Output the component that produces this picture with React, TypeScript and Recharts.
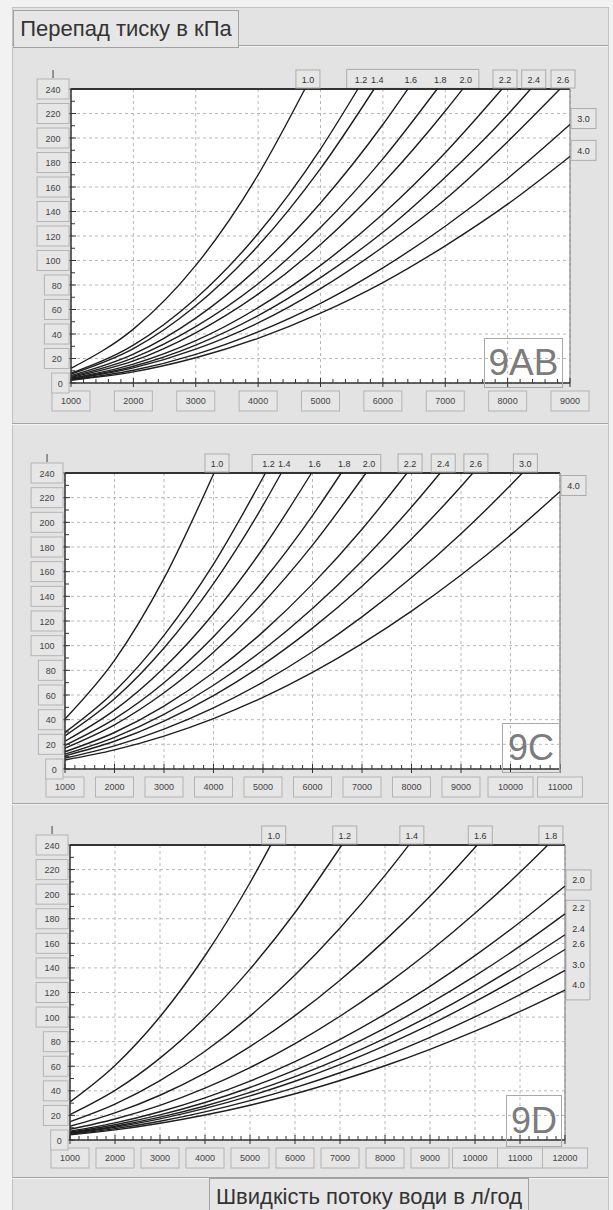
import React from 'react'
import { LineChart, Line, XAxis, YAxis, CartesianGrid, ReferenceLine, ReferenceArea } from 'recharts'

const FONT = '"Liberation Sans", Arial, sans-serif'

// pressure drop axis (kPa)
const DP_TICKS = [0, 20, 40, 60, 80, 100, 120, 140, 160, 180, 200, 220, 240]
const CURVE_NAMES = ['1.0', '1.2', '1.4', '1.6', '1.8', '2.0', '2.2', '2.4', '2.6', '3.0', '4.0']

// 9AB: dp read at every 1000 l/h, last value sits at the END flow
const AB_FLOW = [1000, 2000, 3000, 4000, 5000, 6000, 7000, 8000, 9000]
const AB_END = [4750, 5600, 5860, 6400, 6870, 7280, 7910, 8370, 8840, 9000, 9000]
const AB_DP = [
  [12, 44, 96, 170, 240],
  [8, 31, 69, 122, 191, 240],
  [7.2, 28, 63, 112, 175, 240],
  [6, 23.5, 53, 94, 147, 211, 240],
  [5.2, 20.5, 46, 81, 127, 183, 240],
  [4.6, 18, 41, 72.5, 113, 163, 222, 240],
  [3.9, 15.4, 34.5, 61.5, 96, 138, 188, 240],
  [3.5, 13.7, 31, 55, 86, 123, 168, 219, 240],
  [3.1, 12.3, 27.6, 49, 77, 111, 150, 197, 240],
  [2.7, 10.4, 23.4, 41.7, 65, 94, 128, 167, 211],
  [2.3, 9.1, 20.6, 36.5, 57, 82, 112, 146, 185],
]
const AB_GROUPED = ['1.2', '1.4', '1.6', '1.8', '2.0']

// 9C
const C_FLOW = [1000, 2000, 3000, 4000, 5000, 6000, 7000, 8000, 9000, 10000, 11000]
const C_END = [4010, 5050, 5370, 5980, 6580, 7080, 7910, 8580, 9240, 10240, 11000]
const C_DP = [
  [40.5, 88, 154.5, 240],
  [29.7, 62.9, 108.4, 166.1, 240],
  [26.9, 56.9, 98.1, 150.3, 213.7, 240],
  [22.5, 47.7, 82.1, 125.9, 179, 240],
  [19.2, 40.6, 69.9, 107.2, 152.4, 205.5, 240],
  [16.9, 35.8, 61.8, 94.7, 134.6, 181.5, 240],
  [14, 29.6, 51, 78.2, 111.2, 149.9, 194.4, 240],
  [12.1, 25.7, 44.3, 67.9, 96.5, 130.1, 168.7, 212.4, 240],
  [10.7, 22.5, 38.8, 59.5, 84.6, 114.2, 148.1, 186.4, 229.1, 240],
  [8.9, 18.8, 32.4, 49.6, 70.5, 95.1, 123.3, 155.2, 190.8, 230, 240],
  [7.3, 15.5, 26.7, 40.9, 58.1, 78.4, 101.7, 128, 157.3, 189.6, 225],
]
const C_GROUPED = ['1.2', '1.4', '1.6', '1.8', '2.0']

// 9D
const D_FLOW = [1000, 2000, 3000, 4000, 5000, 6000, 7000, 8000, 9000, 10000, 11000, 12000]
const D_END = [5460, 7040, 8530, 10050, 11620, 12000, 12000, 12000, 12000, 12000, 12000]
const D_DP = [
  [31, 60.7, 100.3, 149.9, 209.3, 240],
  [20.6, 40.3, 66.6, 99.5, 139, 185.1, 240],
  [14.9, 29.2, 48.3, 72.2, 100.8, 134.2, 172.4, 215.3, 240],
  [11.2, 22, 36.4, 54.4, 76, 101.2, 130, 162.4, 198.3, 240],
  [8.7, 17.1, 28.2, 42.2, 58.9, 78.4, 100.7, 125.8, 153.7, 184.4, 217.8, 240],
  [7.1, 13.9, 23, 34.3, 47.9, 63.8, 81.9, 102.4, 125, 150, 177.2, 206.7],
  [6.3, 12.4, 20.4, 30.5, 42.7, 56.8, 72.9, 91.1, 111.3, 133.5, 157.7, 184],
  [5.7, 11.2, 18.6, 27.7, 38.7, 51.5, 66.2, 82.7, 101, 121.2, 143.2, 167],
  [5.3, 10.4, 17.2, 25.7, 35.9, 47.8, 61.4, 76.8, 93.8, 112.5, 132.9, 155],
  [4.7, 9.3, 15.3, 22.9, 32, 42.6, 54.7, 68.3, 83.5, 100.1, 118.3, 138],
  [4.2, 8.2, 13.6, 20.3, 28.3, 37.6, 48.4, 60.4, 73.8, 88.5, 104.6, 122],
]
const D_GROUPED = ['2.2', '2.4', '2.6', '3.0', '4.0']

function range(from: number, to: number, step: number) {
  const out: number[] = []
  for (let v = from; v <= to; v += step) out.push(v)
  return out
}

function buildSeries(flow: number[], end: number[], rows: number[][]) {
  return rows.map((row, c) =>
    row.map((dp, i) => ({ q: i === row.length - 1 ? end[c] : flow[i], dp }))
  )
}

const XTick = (p: any) => {
  const { x, y, payload } = p
  const v = payload.value
  if (v % 1000 !== 0) {
    return <line x1={x} x2={x} y1={y - 4} y2={y} stroke="#333" />
  }
  const s = String(v)
  const w = 10 + 7 * s.length
  return (
    <g>
      <line x1={x} x2={x} y1={y - 5} y2={y + 4} stroke="#333" />
      <rect x={x - w / 2} y={y + 8} width={w} height={20} fill="#e6e6e6" stroke="#b4b4b4" />
      <text x={x} y={y + 21} textAnchor="middle" fontSize={9} fill="#444" fontFamily={FONT}>
        {s}
      </text>
    </g>
  )
}

const YTick = (p: any) => {
  const { x, y, payload } = p
  const v = payload.value
  if (v % 20 !== 0) {
    return <line x1={x} x2={x + 4} y1={y} y2={y} stroke="#333" />
  }
  const s = String(v)
  const w = 10 + 7.3 * s.length
  const cx = x - 2 - w / 2
  return (
    <g>
      <line x1={x - 3} x2={x + 5} y1={y} y2={y} stroke="#333" />
      <rect x={x - 2 - w} y={y - 10} width={w} height={20} fill="#e6e6e6" stroke="#b4b4b4" />
      <text x={cx} y={y + 3.5} textAnchor="middle" fontSize={9} fill="#444" fontFamily={FONT}>
        {s}
      </text>
      {v === 240 && <line x1={cx} x2={cx} y1={y - 19} y2={y - 11} stroke="#444" />}
    </g>
  )
}

const makeDot = (name: string, last: number, grouped: boolean) => (p: any) => {
  const key = `${name}-${p.index}`
  if (p.index !== last) return <g key={key} />
  const { cx, cy } = p
  const top = p.payload.dp >= 240
  if (top) {
    return (
      <g key={key}>
        {!grouped && <rect x={cx - 9} y={cy - 19} width={24} height={18} fill="#e6e6e6" stroke="#acacac" />}
        <text x={cx + 3} y={cy - 6.5} textAnchor="middle" fontSize={9} fill="#333" fontFamily={FONT}>
          {name}
        </text>
      </g>
    )
  }
  return (
    <g key={key}>
      {!grouped && <rect x={cx + 1} y={cy - 16} width={25} height={20} fill="#e6e6e6" stroke="#acacac" />}
      <text x={cx + 13.5} y={cy - 2.5} textAnchor="middle" fontSize={9} fill="#333" fontFamily={FONT}>
        {name}
      </text>
    </g>
  )
}

type PanelProps = {
  top: number
  height: number
  margin: { top: number; right: number; bottom: number; left: number }
  flow: number[]
  end: number[]
  rows: number[][]
  grouped: string[]
  groupBox: { x1: number; x2: number; y1: number; y2: number }
}

function Panel({ top, height, margin, flow, end, rows, grouped, groupBox }: PanelProps) {
  const series = buildSeries(flow, end, rows)
  const xMax = flow[flow.length - 1]
  return (
    <div style={{ position: 'absolute', left: 0, top }}>
      <LineChart width={613} height={height} margin={margin}>
        <CartesianGrid
          fill="#fff"
          stroke="#b8b8b8"
          strokeDasharray="3 3"
          verticalValues={flow}
          horizontalValues={DP_TICKS}
        />
        <XAxis
          dataKey="q"
          type="number"
          domain={[1000, xMax]}
          ticks={range(1000, xMax, 200)}
          interval={0}
          height={30}
          tickSize={0}
          tickMargin={0}
          tickLine={false}
          axisLine={{ stroke: '#333', strokeWidth: 1.5 }}
          tick={(p: any) => <XTick {...p} />}
        />
        <YAxis
          type="number"
          domain={[0, 240]}
          ticks={range(0, 240, 10)}
          interval={0}
          width={40}
          tickSize={0}
          tickMargin={0}
          tickLine={false}
          axisLine={{ stroke: '#333', strokeWidth: 1.5 }}
          tick={(p: any) => <YTick {...p} />}
        />
        <ReferenceLine y={240} stroke="#333" strokeWidth={2} />
        <ReferenceLine x={xMax} stroke="#8a8a8a" strokeWidth={1.2} />
        <ReferenceArea
          x1={groupBox.x1}
          x2={groupBox.x2}
          y1={groupBox.y1}
          y2={groupBox.y2}
          ifOverflow="visible"
          fill="#e6e6e6"
          fillOpacity={1}
          stroke="#acacac"
        />
        {series.map((pts, c) => (
          <Line
            key={CURVE_NAMES[c]}
            data={pts}
            dataKey="dp"
            type="monotone"
            stroke="#1e1e1e"
            strokeWidth={1.4}
            dot={makeDot(CURVE_NAMES[c], pts.length - 1, grouped.includes(CURVE_NAMES[c]))}
            activeDot={false}
            isAnimationActive={false}
          />
        ))}
      </LineChart>
    </div>
  )
}

const tagStyle = (left: number, top: number, width: number, height: number, size: number): React.CSSProperties => ({
  position: 'absolute',
  left,
  top,
  width,
  height,
  border: '1px solid #a8a8a8',
  boxSizing: 'border-box',
  color: '#7c7c7c',
  fontSize: size,
  fontFamily: FONT,
  display: 'flex',
  alignItems: 'center',
  justifyContent: 'center',
  pointerEvents: 'none',
})

const divider = (top: number): React.CSSProperties => ({
  position: 'absolute',
  left: 12,
  top,
  width: 596,
  height: 1,
  background: '#a4a4a4',
  boxShadow: '0 1px 0 #f4f4f4',
})

export default function App() {
  return (
    <div style={{ position: 'absolute', left: 0, top: 0, width: 613, height: 1210, background: '#f2f2f2', overflow: 'hidden' }}>
      <div
        style={{
          position: 'absolute',
          left: 12,
          top: 7,
          width: 595,
          height: 1210,
          background: '#e3e3e3',
          borderLeft: '1px solid #c2c2c2',
          borderRight: '1px solid #c2c2c2',
          borderTop: '1px solid #c2c2c2',
        }}
      />
      <div style={divider(45)} />
      <div
        style={{
          position: 'absolute',
          left: 13,
          top: 10,
          width: 226,
          height: 38,
          border: '1px solid #a2a2a2',
          boxSizing: 'border-box',
          background: '#e6e6e6',
          fontFamily: FONT,
          fontSize: 22,
          color: '#333',
          display: 'flex',
          alignItems: 'center',
          justifyContent: 'center',
        }}
      >
        Перепад тиску в кПа
      </div>

      <Panel
        top={45}
        height={378}
        margin={{ top: 44, right: 43, bottom: 10, left: 31 }}
        flow={AB_FLOW}
        end={AB_END}
        rows={AB_DP}
        grouped={AB_GROUPED}
        groupBox={{ x1: 5420, x2: 7540, y1: 240.5, y2: 256 }}
      />
      <div style={tagStyle(484, 338, 79, 50, 37)}>9AB</div>

      <div style={divider(423)} />
      <Panel
        top={423}
        height={380}
        margin={{ top: 50, right: 53, bottom: 4, left: 25 }}
        flow={C_FLOW}
        end={C_END}
        rows={C_DP}
        grouped={C_GROUPED}
        groupBox={{ x1: 4780, x2: 7380, y1: 240.5, y2: 255 }}
      />
      <div style={tagStyle(502, 723, 58, 50, 36)}>9C</div>

      <div style={divider(803)} />
      <Panel
        top={803}
        height={374}
        margin={{ top: 42, right: 48, bottom: 7, left: 30 }}
        flow={D_FLOW}
        end={D_END}
        rows={D_DP}
        grouped={D_GROUPED}
        groupBox={{ x1: 12020, x2: 12555, y1: 114, y2: 195 }}
      />
      <div style={tagStyle(506, 1095, 56, 52, 36)}>9D</div>

      <div style={divider(1177)} />
      <div
        style={{
          position: 'absolute',
          left: 209,
          top: 1178,
          width: 320,
          height: 40,
          border: '1px solid #a2a2a2',
          boxSizing: 'border-box',
          background: '#e6e6e6',
          fontFamily: FONT,
          fontSize: 22,
          color: '#333',
          paddingTop: 5,
          textAlign: 'center',
        }}
      >
        Швидкість потоку води в л/год
      </div>
    </div>
  )
}
